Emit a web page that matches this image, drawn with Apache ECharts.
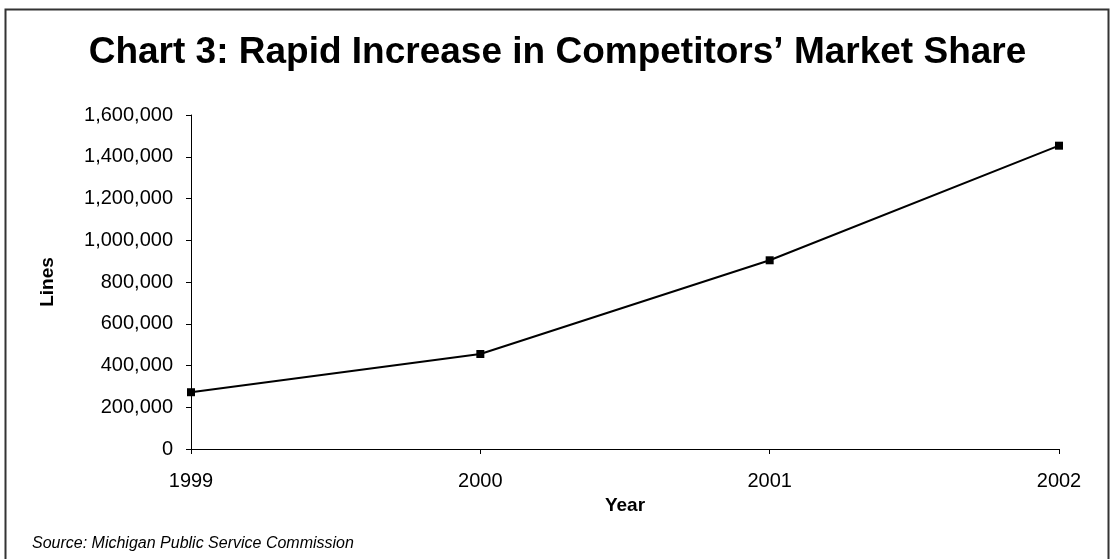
<!DOCTYPE html>
<html>
<head>
<meta charset="utf-8">
<script src="https://cdn.jsdelivr.net/npm/echarts@6/dist/echarts.min.js"></script>
<style>
html,body{margin:0;padding:0;background:#fff;}
#chart{width:1115px;height:559px;}
</style>
</head>
<body>
<div id="chart"></div>
<script>
const years = ['1999', '2000', '2001', '2002'];
const lines = [272000, 455000, 904000, 1453000];
const yTicks = { min: 0, max: 1600000, interval: 200000 };
const titleText = 'Chart 3: Rapid Increase in Competitors\u2019 Market Share';
const sourceText = 'Source: Michigan Public Service Commission';

const FONT = '"Liberation Sans", Arial, sans-serif';
const chart = echarts.init(document.getElementById('chart'), null, { renderer: 'canvas' });
chart.setOption({
  backgroundColor: '#ffffff',
  animation: false,
  title: {
    text: titleText,
    left: 'center',
    top: 29,
    textStyle: { fontFamily: FONT, fontSize: 37, fontWeight: 'bold', color: '#000' }
  },
  graphic: [
    {
      type: 'rect',
      shape: { x: 5.5, y: 9.5, width: 1103, height: 560 },
      style: { fill: 'none', stroke: '#333', lineWidth: 2 },
      silent: true
    },
    {
      type: 'text',
      left: 32,
      top: 536,
      style: { text: sourceText, font: 'italic 16px ' + FONT, fill: '#000' }
    }
  ],
  grid: { left: 191, right: 56, top: 115, bottom: 110, containLabel: false },
  xAxis: {
    type: 'category',
    data: years,
    boundaryGap: false,
    name: 'Year',
    nameLocation: 'middle',
    nameGap: 43,
    nameTextStyle: { fontFamily: FONT, fontSize: 19, fontWeight: 'bold', color: '#000' },
    axisLine: { lineStyle: { color: '#000', width: 1 } },
    axisTick: { show: true, length: 5, alignWithLabel: true, lineStyle: { color: '#000' } },
    axisLabel: { margin: 22, fontFamily: FONT, fontSize: 20, color: '#000' },
    splitLine: { show: false }
  },
  yAxis: {
    type: 'value',
    min: yTicks.min,
    max: yTicks.max,
    interval: yTicks.interval,
    name: 'Lines',
    nameLocation: 'middle',
    nameGap: 134,
    nameRotate: 90,
    nameTextStyle: { fontFamily: FONT, fontSize: 19, fontWeight: 'bold', color: '#000' },
    axisLine: { show: true, lineStyle: { color: '#000', width: 1 } },
    axisTick: { show: true, length: 5, lineStyle: { color: '#000' } },
    axisLabel: {
      margin: 18, fontFamily: FONT, fontSize: 20, color: '#000',
      formatter: v => v.toLocaleString('en-US')
    },
    splitLine: { show: false }
  },
  series: [{
    type: 'line',
    data: lines,
    symbol: 'rect',
    symbolSize: 8,
    lineStyle: { color: '#000', width: 2 },
    itemStyle: { color: '#000' },
    clip: false
  }]
});
</script>
</body>
</html>
